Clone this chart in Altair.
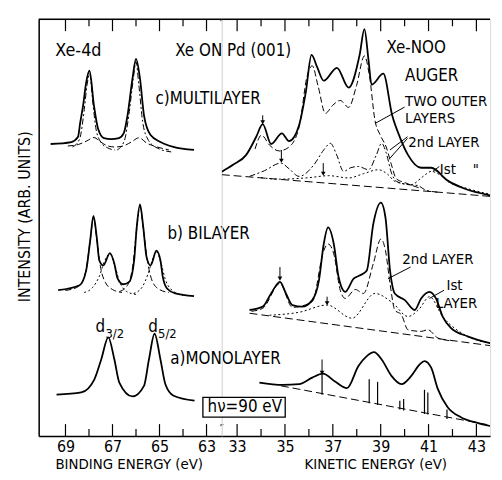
import altair as alt
import pandas as pd

FONT = "Liberation Sans Narrow, DejaVu Sans Condensed, Arial Narrow, sans-serif"
LW, RW, H = 185, 271, 421
XL_DOM = [62.35, 70.14]
XR_DOM = [32.36, 43.57]

# ---------------- data: left panel (binding energy, eV) ----------------
be_multi = [69.63, 68.75, 68.47, 68.37, 68.25, 68.12, 67.98, 67.79, 67.62, 67.36, 67.06, 66.73,
            66.52, 66.36, 66.15, 66.0, 65.83, 65.66, 65.38, 64.96, 64.41, 63.53]
i_multi = [295, 297, 302, 317, 334, 357, 369, 334, 311, 301, 300, 301,
           306, 324, 361, 381, 361, 324, 304, 297, 292, 289]
be_multi_m1 = [68.7, 68.4, 68.2, 68.08, 67.97, 67.85, 67.7, 67.5, 67.2, 66.9]
i_multi_m1 = [292, 300, 330, 355, 366, 340, 310, 297, 291, 289]
be_multi_m2 = [66.8, 66.5, 66.3, 66.12, 66.0, 65.88, 65.72, 65.5, 65.1, 64.5]
i_multi_m2 = [289, 298, 325, 360, 378, 355, 318, 300, 291, 287]
be_multi_s = [68.9, 68.45, 68.1, 67.79, 67.5, 67.2, 66.9, 66.55, 66.2, 65.87, 65.55, 65.1, 64.6]
i_multi_s = [293, 294.5, 298, 301.5, 297, 293, 292, 293, 297, 301.3, 296, 292, 289]

be_bi = [69.31, 68.40, 68.12, 67.95, 67.81, 67.67, 67.56, 67.39, 67.11, 66.92, 66.78, 66.55,
         66.29, 66.08, 65.97, 65.83, 65.69, 65.55, 65.38, 65.13, 64.96, 64.86, 64.68, 64.33, 63.53]
i_bi = [147.3, 152.3, 167.3, 197.3, 222.3, 200.7, 177.3, 172.3, 184.7, 174, 159, 153.3,
        155.7, 177.3, 210.7, 234, 210.7, 180.7, 172.3, 187.3, 177.3, 160.7, 149, 144, 141.3]
be_bi_m1 = [69.0, 68.45, 68.15, 67.95, 67.81, 67.67, 67.52, 67.3, 67.0, 66.6]
i_bi_m1 = [147, 151, 165, 197, 221, 199, 172, 155, 148, 145]
be_bi_s1 = [68.2, 67.85, 67.55, 67.35, 67.11, 66.9, 66.7, 66.4, 66.0]
i_bi_s1 = [145, 150, 162, 176, 184, 172, 156, 146, 143]
be_bi_m2 = [66.7, 66.4, 66.15, 65.97, 65.83, 65.69, 65.5, 65.3, 65.0, 64.6]
i_bi_m2 = [146, 151, 170, 209, 232, 209, 175, 156, 148, 145]
be_bi_s2 = [66.1, 65.75, 65.5, 65.3, 65.13, 64.95, 64.75, 64.4, 64.0]
i_bi_s2 = [144, 150, 163, 178, 186, 176, 158, 146, 142]

be_mono = [69.38, 68.33, 67.77, 67.48, 67.18, 66.92, 66.71, 66.15, 65.66, 65.45, 65.21,
           64.96, 64.75, 64.40, 63.51]
i_mono = [41.7, 44, 57.3, 77.3, 99.7, 77.3, 54, 40, 50.7, 77.3, 103.3, 77.3, 52.3, 40.7, 35.7]

# ---------------- data: right panel (kinetic energy, eV) ----------------
ke_c = [32.36, 32.83, 33.38, 33.80, 34.07, 34.42, 34.87, 35.17, 35.59, 35.87, 36.11, 36.35,
        36.62, 37.17, 37.66, 38.12, 38.32, 38.49, 38.62, 39.11, 39.48, 39.80, 40.14, 40.69,
        41.11, 41.80, 42.49, 43.57]
i_c = [267, 274, 284, 302.3, 315, 295, 305.7, 298, 314, 347.3, 385, 372.3,
       359, 372, 352, 385, 411, 380, 355, 366, 324, 302, 284, 271,
       271, 258, 250, 243.2]
ke_c_outer = [33.75, 34.02, 34.35, 34.76, 35.17, 35.59, 35.93, 36.14, 36.38, 36.69, 36.99,
              37.31, 37.66, 37.99, 38.32, 38.53, 38.76, 38.98, 39.23, 39.45, 39.65, 40.01, 40.69]
i_c_outer = [290, 304, 294, 288, 292, 312, 364, 374, 354, 326, 334,
             339, 332, 354, 384, 364, 319, 304, 292, 274, 260, 256, 250]
ke_c_2nd = [33.52, 34.14, 34.83, 35.17, 35.59, 36.21, 36.62, 36.90, 37.16, 37.45, 37.74, 38.07,
            38.49, 38.82, 39.04, 39.23, 39.45, 39.66, 40.14, 40.56, 40.83, 41.38]
i_c_2nd = [262.3, 268, 275.7, 270, 262.3, 274, 289, 295.7, 284, 267.3, 271, 272.3,
           269, 284, 295.7, 286, 265.7, 257.3, 254, 253, 249, 246.3]
ke_c_1st = [34.0, 34.76, 36.0, 36.83, 37.66, 38.28, 38.90, 39.31, 39.59, 40.28, 40.76, 41.11,
            41.47, 41.80, 42.63, 43.57]
i_c_1st = [261, 259.5, 261, 263, 260.7, 265, 269, 264, 257.3, 254, 262, 267.3,
           264, 257.3, 250, 244.3]
ke_c_base = [32.36, 43.57]
i_c_base = [264, 242.1]

ke_b = [33.52, 34.07, 34.42, 34.79, 35.04, 35.31, 35.72, 36.14, 36.42, 36.62, 36.80, 37.04,
        37.24, 37.52, 37.87, 38.14, 38.42, 38.69, 39.01, 39.20, 39.39, 39.59, 40.01, 40.42,
        40.69, 41.04, 41.31, 41.59, 41.94, 42.63, 43.57]
i_b = [127.3, 130.7, 144, 155.7, 144, 132.3, 130.7, 137.3, 157.3, 194, 210.7, 194,
       160.7, 145.7, 159, 162.3, 167.3, 214, 235.7, 220.7, 167.3, 144, 137.3, 127.3,
       139, 145.7, 139, 120.7, 109, 100.7, 93.8]
ke_b_2nd = [33.6, 34.07, 34.79, 35.31, 36.14, 36.62, 36.80, 37.04, 37.31, 37.52, 37.94, 38.28,
            38.69, 39.01, 39.20, 39.39, 39.59, 39.87, 40.14, 40.69, 40.97, 41.39, 42.0]
i_b_2nd = [126, 129, 154, 130, 135.7, 187.3, 194, 184, 147.3, 139, 148, 144,
           174, 199, 187.3, 154, 127.3, 122.3, 107.3, 105.7, 107.3, 99, 96]
ke_b_1st = [34.35, 35.59, 36.76, 37.80, 38.76, 39.52, 40.14, 40.6, 41.04, 41.59, 42.63, 43.57]
i_b_1st = [122, 125, 132.3, 119, 144, 134, 120.7, 128, 140.7, 120.7, 100.7, 93.8]
ke_b_base = [33.52, 43.57]
i_b_base = [124, 91.3]

ke_a = [33.93, 34.90, 35.59, 36.14, 36.58, 37.11, 37.59, 38.07, 38.42, 38.72, 39.04, 39.45,
        39.87, 40.28, 40.63, 40.83, 41.11, 41.39, 41.80, 42.35, 43.04, 43.57]
i_a = [54, 51.7, 52.3, 59, 63, 54.7, 48.3, 70.7, 80.7, 84.7, 77.3, 60.7,
       52.3, 60.7, 72.3, 75.7, 69, 47.3, 29, 19, 13.3, 10.1]
ke_a_base = [34.83, 43.57]
i_a_base = [50.7, 11.0]
stick_ke = [36.55, 38.52, 38.87, 39.80, 39.96, 40.83, 40.97, 41.77]
stick_lo = [41.7, 33, 31.3, 26.7, 25.7, 22.3, 21.7, 17.3]
stick_hi = [63.3, 57.3, 54.7, 35.7, 37.3, 46.7, 44, 26.7]

arrow_ke = [34.07, 34.85, 36.6, 34.79, 36.76, 36.55]
arrow_top = [324, 289, 275.7, 170.7, 140.7, 77.3]
arrow_tip = [317, 278, 265, 159, 134, 64]

leader_x1 = [38.76, 39.39, 39.39, 41.18, 39.31, 41.04]
leader_y1 = [315.7, 289, 280.7, 267.3, 159, 139]
leader_x2 = [40.0, 40.12, 40.12, 41.45, 40.25, 41.65]
leader_y2 = [332.3, 302.3, 300.7, 272.3, 170.7, 147.3]

left_major = [69, 67, 65, 63]
left_minor = [68, 66, 64]
right_major = [33, 35, 37, 39, 41, 43]
right_minor = [34, 36, 38, 40, 42]

left_text = ["Xe ON Pd (001)", "c)MULTILAYER", "b) BILAYER", "a)MONOLAYER"]
left_text_x = [64.33, 65.17, 64.66, 64.54]
left_text_y = [389, 340, 204, 77.3]
right_head = ["Xe-NOO", "AUGER"]
right_head_x = [39.24, 40.02]
right_head_y = [392, 364]
right_text = ["TWO OUTER", "LAYERS", "2nd LAYER", "Ist", "\"", "2nd LAYER", "Ist", "LAYER"]
right_text_x = [40.02, 40.02, 40.15, 41.47, 42.85, 39.90, 41.75, 41.30]
right_text_y = [338, 321, 297, 270, 270, 179, 152, 134]

# ---------------- scales / encodings ----------------
ys = alt.Scale(domain=[0, H], nice=False, zero=False)
xs_l = alt.Scale(domain=XL_DOM, reverse=True, nice=False, zero=False)
xs_r = alt.Scale(domain=XR_DOM, nice=False, zero=False)


def xaxis(vals, title, tx):
    return alt.Axis(values=vals, ticks=False, grid=False, format="d", labelFont=FONT,
                    labelFontSize=16, labelPadding=3, labelColor="black", labelOverlap=False,
                    labelFlush=False, domainColor="black", domainWidth=1.5, title=title,
                    titleFont=FONT, titleFontSize=15, titleFontWeight="normal", titleColor="black",
                    titleBaseline="top", titleY=21, titleX=tx, titleAlign="center")

XL = alt.X("x:Q", scale=xs_l, axis=xaxis(left_major, "BINDING ENERGY (eV)", 91))
XR = alt.X("x:Q", scale=xs_r, axis=xaxis(right_major, "KINETIC ENERGY (eV)", 155))
YL = alt.Y("y:Q", scale=ys, axis=alt.Axis(ticks=False, labels=False, grid=False, domainColor="black",
                                          domainWidth=1.5, title="INTENSITY (ARB. UNITS)",
                                          titleFont=FONT, titleFontSize=16, titleFontWeight="normal",
                                          titleColor="black", titlePadding=6, titleY=199))
YR = alt.Y("y:Q", scale=ys, axis=None)


def curve(xv, yv, X, Y, dash=None, w=1.0):
    df = pd.DataFrame({"x": xv, "y": yv, "o": list(range(len(xv)))})
    kw = dict(color="black", strokeWidth=w, interpolate="monotone", clip=True)
    if dash:
        kw["strokeDash"] = dash
    return alt.Chart(df).mark_line(**kw).encode(x=X, y=Y, order="o:Q")


def frame(major, minor, X, Y, dom):
    rows = []
    for vals, ln in ((major, 12), (minor, 7)):
        for v in vals:
            rows.append({"x": v, "y": 0, "y2": ln})
            rows.append({"x": v, "y": H, "y2": H - ln})
    tk = alt.Chart(pd.DataFrame(rows)).mark_rule(color="black", strokeWidth=1.2).encode(
        x=X, y=Y, y2="y2:Q")
    top = pd.DataFrame({"x": dom, "y": [H, H], "o": [0, 1]})
    line = alt.Chart(top).mark_line(color="black", strokeWidth=1.5).encode(x=X, y=Y, order="o:Q")
    return [tk, line]


def texts(tx, xv, yv, X, Y, size=17, align="left", baseline="middle"):
    df = pd.DataFrame({"x": xv, "y": yv, "t": tx})
    return alt.Chart(df).mark_text(font=FONT, fontSize=size, align=align, baseline=baseline,
                                   color="black").encode(x=X, y=Y, text="t:N")

DASH = [6, 3]
DOT = [2, 2.5]
DASHDOT = [6, 2.5, 2, 2.5]

# ---------------- left panel ----------------
left_layers = frame(left_major, left_minor, XL, YL, XL_DOM) + [
    curve(be_multi_m1, i_multi_m1, XL, YL, DASHDOT),
    curve(be_multi_m2, i_multi_m2, XL, YL, DASHDOT),
    curve(be_multi_s, i_multi_s, XL, YL, DASH),
    curve(be_multi, i_multi, XL, YL, None, 1.8),
    curve(be_bi_m1, i_bi_m1, XL, YL, DASH),
    curve(be_bi_m2, i_bi_m2, XL, YL, DASH),
    curve(be_bi_s1, i_bi_s1, XL, YL, DOT),
    curve(be_bi_s2, i_bi_s2, XL, YL, DOT),
    curve(be_bi, i_bi, XL, YL, None, 1.8),
    curve(be_mono, i_mono, XL, YL, None, 1.8),
    texts(["Xe-4d"], [68.45], [389], XL, YL, 18, "center"),
    texts(left_text, left_text_x, left_text_y, XL, YL, 17),
    texts(["d", "d"], [67.72, 65.48], [110, 110], XL, YL, 17),
    texts(["3/2", "5/2"], [67.30, 65.06], [103, 103], XL, YL, 13),
    texts(["\u2033"], [62.35], [H], XL, YL, 12, "center", "top"),
    texts(["\u2033"], [62.35], [0], XL, YL, 12, "center", "bottom"),
]
left = alt.layer(*left_layers).properties(width=LW, height=H)

# ---------------- right panel ----------------
arrows = pd.DataFrame({"x": arrow_ke, "y": arrow_top, "y2": arrow_tip})
tips = pd.DataFrame({"x": arrow_ke, "y": arrow_tip})
leaders = pd.DataFrame({"x": leader_x1, "y": leader_y1, "x2": leader_x2, "y2": leader_y2})
sticks = pd.DataFrame({"x": stick_ke, "y": stick_lo, "y2": stick_hi})
box = pd.DataFrame({"x": [31.57], "x2": [35.01], "y": [19], "y2": [39]})

right_layers = frame(right_major, right_minor, XR, YR, XR_DOM) + [
    curve(ke_c_base, i_c_base, XR, YR, [8, 4]),
    curve(ke_b_base, i_b_base, XR, YR, [8, 4]),
    curve(ke_a_base, i_a_base, XR, YR, [8, 4]),
    curve(ke_c_outer, i_c_outer, XR, YR, DASH),
    curve(ke_c_2nd, i_c_2nd, XR, YR, DASHDOT),
    curve(ke_c_1st, i_c_1st, XR, YR, DOT),
    curve(ke_c, i_c, XR, YR, None, 1.8),
    curve(ke_b_2nd, i_b_2nd, XR, YR, DASH),
    curve(ke_b_1st, i_b_1st, XR, YR, DOT),
    curve(ke_b, i_b, XR, YR, None, 1.8),
    curve(ke_a, i_a, XR, YR, None, 1.8),
    alt.Chart(sticks).mark_rule(color="black", strokeWidth=1.2).encode(x=XR, y=YR, y2="y2:Q"),
    alt.Chart(arrows).mark_rule(color="black", strokeWidth=1).encode(x=XR, y=YR, y2="y2:Q"),
    alt.Chart(tips).mark_point(shape="triangle-down", filled=True, size=22, color="black",
                               opacity=1).encode(x=XR, y=YR),
    alt.Chart(leaders).mark_rule(color="black", strokeWidth=1).encode(x=XR, y=YR, x2="x2:Q", y2="y2:Q"),
    alt.Chart(box).mark_rect(fill="white", stroke="black", strokeWidth=1.3).encode(
        x=XR, x2="x2:Q", y=YR, y2="y2:Q"),
    texts(["h\u03bd=90 eV"], [33.32], [29], XR, YR, 17, "center"),
    texts(right_head, right_head_x, right_head_y, XR, YR, 17),
    texts(right_text, right_text_x, right_text_y, XR, YR, 15),
]
right = alt.layer(*right_layers).properties(width=RW, height=H)

chart = alt.hconcat(left, right, spacing=0, bounds="flush").properties(
    padding={"left": 8, "top": 5, "right": 0, "bottom": 0}
).configure_view(stroke="white", strokeWidth=0).configure(font=FONT)

chart.save("out.html", embed_options={"renderer": "svg", "actions": False})
